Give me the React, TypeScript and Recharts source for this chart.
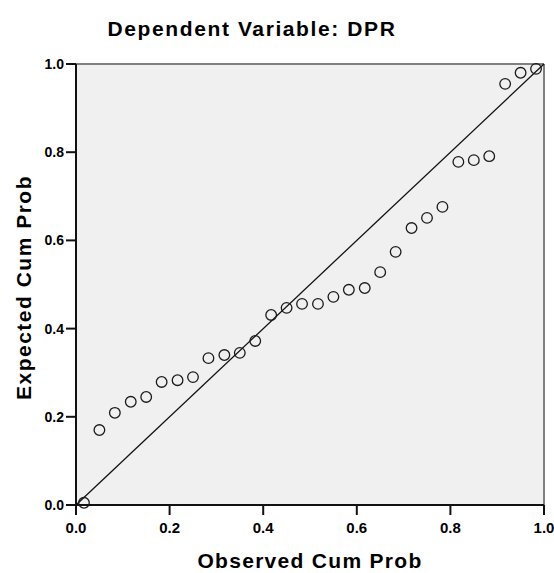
import React from 'react';
import {
  ScatterChart,
  Scatter,
  XAxis,
  YAxis,
  ReferenceLine,
  ReferenceArea,
} from 'recharts';

// Observed cumulative probability (x) for each residual point
const observedCumProb = [
  0.017, 0.05, 0.083, 0.117, 0.15, 0.183, 0.217, 0.25, 0.283, 0.317,
  0.35, 0.383, 0.417, 0.45, 0.483, 0.517, 0.55, 0.583, 0.617, 0.65,
  0.683, 0.717, 0.75, 0.783, 0.817, 0.85, 0.883, 0.917, 0.95, 0.983,
];

// Expected cumulative probability (y)
const expectedCumProb = [
  0.005, 0.17, 0.209, 0.234, 0.245, 0.279, 0.283, 0.29, 0.333, 0.34,
  0.345, 0.372, 0.431, 0.447, 0.456, 0.456, 0.472, 0.488, 0.492, 0.528,
  0.574, 0.628, 0.651, 0.676, 0.778, 0.782, 0.791, 0.955, 0.98, 0.989,
];

const tickValues = [0, 0.2, 0.4, 0.6, 0.8, 1.0];
const tickLabels = ['0.0', '0.2', '0.4', '0.6', '0.8', '1.0'];

const titleText = 'Dependent Variable: DPR';
const xLabelText = 'Observed Cum Prob';
const yLabelText = 'Expected Cum Prob';

const points = observedCumProb.map((x, i) => ({ x, y: expectedCumProb[i] }));

const FONT = '"Liberation Sans", Arial, sans-serif';

const fmt = (v: number) => {
  const idx = tickValues.findIndex((t) => Math.abs(t - v) < 1e-9);
  return idx >= 0 ? tickLabels[idx] : String(v);
};

const HollowCircle = (props: any) => {
  const { cx, cy } = props;
  if (cx == null || cy == null) return null;
  return <circle cx={cx} cy={cy} r={5.3} fill="none" stroke="#1a1a1a" strokeWidth={1.3} />;
};

const XLabel = (props: any) => {
  const vb = props.viewBox || {};
  return (
    <text
      x={vb.x + vb.width / 2}
      y={vb.y + 63}
      textAnchor="middle"
      fontFamily={FONT}
      fontWeight="bold"
      fontSize={21}
      letterSpacing={1.3}
      fill="#000"
    >
      {xLabelText}
    </text>
  );
};

const YLabel = (props: any) => {
  const vb = props.viewBox || {};
  const cx = 31;
  const cy = vb.y + vb.height / 2 + 3;
  return (
    <text
      x={cx}
      y={cy}
      textAnchor="middle"
      transform={`rotate(-90, ${cx}, ${cy})`}
      fontFamily={FONT}
      fontWeight="bold"
      fontSize={21}
      letterSpacing={1.5}
      fill="#000"
    >
      {yLabelText}
    </text>
  );
};

export default function App() {
  return (
    <div style={{ position: 'absolute', left: 0, top: 0, width: 554, height: 573, background: '#fff' }}>
      <div
        style={{
          position: 'absolute',
          left: 0,
          top: 17,
          width: 504,
          textAlign: 'center',
          fontFamily: FONT,
          fontWeight: 'bold',
          fontSize: 21,
          letterSpacing: 1.6,
          color: '#000',
          lineHeight: '24px',
          whiteSpace: 'nowrap',
        }}
      >
        {titleText}
      </div>
      <ScatterChart
        width={554}
        height={573}
        margin={{ top: 64, right: 10, bottom: 0, left: 0 }}
        style={{ position: 'absolute', left: 0, top: 0 }}
      >
        <XAxis
          type="number"
          dataKey="x"
          domain={[0, 1]}
          ticks={tickValues}
          tickFormatter={fmt}
          height={68}
          tickSize={10}
          tickMargin={7}
          stroke="#111"
          strokeWidth={2}
          tick={{ fill: '#000', fontSize: 15, fontWeight: 'bold', fontFamily: FONT }}
          label={<XLabel />}
        />
        <YAxis
          type="number"
          dataKey="y"
          domain={[0, 1]}
          ticks={tickValues}
          tickFormatter={fmt}
          width={76}
          tickSize={10}
          tickMargin={2}
          stroke="#111"
          strokeWidth={2}
          tick={{ fill: '#000', fontSize: 14, fontWeight: 'bold', fontFamily: FONT }}
          label={<YLabel />}
        />
        <ReferenceArea x1={0} x2={1} y1={0} y2={1} fill="#f0f0f0" fillOpacity={1} stroke="none" />
        <ReferenceLine y={1} stroke="#808080" strokeWidth={2} />
        <ReferenceLine x={1} stroke="#808080" strokeWidth={2} />
        <ReferenceLine
          segment={[
            { x: 0, y: 0 },
            { x: 1, y: 1 },
          ]}
          stroke="#111"
          strokeWidth={1.3}
        />
        <Scatter data={points} shape={<HollowCircle />} isAnimationActive={false} />
      </ScatterChart>
    </div>
  );
}
